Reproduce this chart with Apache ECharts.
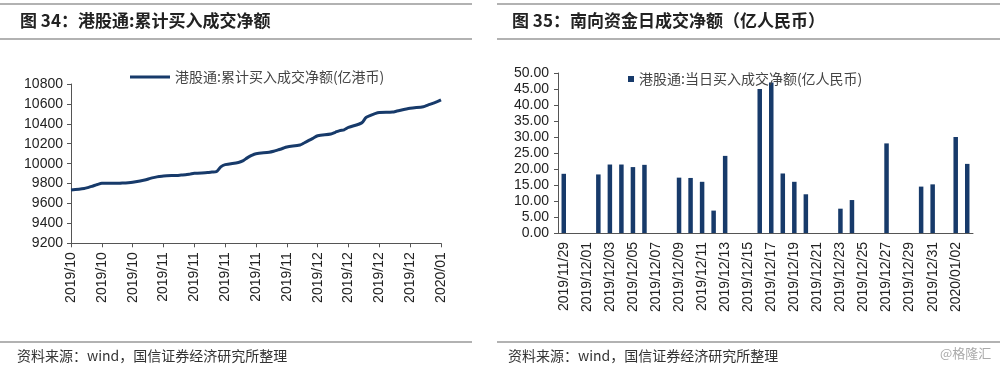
<!DOCTYPE html>
<html>
<head>
<meta charset="utf-8">
<script src="https://cdn.jsdelivr.net/npm/echarts@6/dist/echarts.min.js"></script>
<style>
html,body{margin:0;padding:0;background:#fff;}
#c{width:1000px;height:369px;}
</style>
</head>
<body>
<div id="c"></div>
<script>
// ---- Left chart: cumulative net buy (亿港币), trading days ----
const lineStart = '2019/10/11';
const lineEnd = '2020/01/03';
const lineDates = [
 '2019/10/11','2019/10/14','2019/10/15','2019/10/16','2019/10/17','2019/10/18',
 '2019/10/21','2019/10/22','2019/10/23','2019/10/24','2019/10/25',
 '2019/10/28','2019/10/29','2019/10/30','2019/10/31','2019/11/01',
 '2019/11/04','2019/11/05','2019/11/06','2019/11/07','2019/11/08',
 '2019/11/11','2019/11/12','2019/11/13','2019/11/14','2019/11/15',
 '2019/11/18','2019/11/19','2019/11/20','2019/11/21','2019/11/22',
 '2019/11/25','2019/11/26','2019/11/27','2019/11/28','2019/11/29',
 '2019/12/02','2019/12/03','2019/12/04','2019/12/05','2019/12/06',
 '2019/12/09','2019/12/10','2019/12/11','2019/12/12','2019/12/13',
 '2019/12/16','2019/12/17','2019/12/18','2019/12/19','2019/12/20',
 '2019/12/23','2019/12/24','2019/12/27','2019/12/30','2019/12/31',
 '2020/01/02','2020/01/03'
];
const lineValues = [
 9735,9750,9762,9776,9790,9802,
 9804,9803,9806,9808,9813,
 9838,9852,9862,9870,9876,
 9882,9885,9888,9895,9903,
 9910,9915,9920,9968,9990,
 10012,10028,10058,10083,10100,
 10114,10124,10138,10152,10168,
 10188,10210,10233,10256,10280,
 10298,10315,10332,10340,10364,
 10410,10465,10485,10502,10513,
 10518,10528,10556,10572,10588,
 10620,10640
];
const lineYTicks = {min: 9200, max: 10800, interval: 200};

// ---- Right chart: daily net buy (亿人民币) ----
const barStart = '2019/11/29';
const barEnd = '2020/01/03';
const barDates = [
 '2019/11/29','2019/12/02','2019/12/03','2019/12/04','2019/12/05','2019/12/06',
 '2019/12/09','2019/12/10','2019/12/11','2019/12/12','2019/12/13',
 '2019/12/16','2019/12/17','2019/12/18','2019/12/19','2019/12/20',
 '2019/12/23','2019/12/24','2019/12/27','2019/12/30','2019/12/31',
 '2020/01/02','2020/01/03'
];
const barValues = [
 18.5,18.3,21.4,21.4,20.6,21.3,
 17.3,17.2,16.0,7.0,24.1,
 45.0,47.0,18.6,16.0,12.1,
 7.6,10.3,28.0,14.5,15.2,
 30.0,21.6
];
const barYTicks = {min: 0, max: 50, interval: 5};

const lineName = '港股通:累计买入成交净额(亿港币)';
const barName = '港股通:当日买入成交净额(亿人民币)';
const title1 = '图 34：港股通:累计买入成交净额';
const title2 = '图 35：南向资金日成交净额（亿人民币）';
const sourceText = '资料来源：wind，国信证券经济研究所整理';
const watermark = '@格隆汇';

function calendarDays(a, b) {
  const p = s => { const t = s.split('/').map(Number); return Date.UTC(t[0], t[1]-1, t[2]); };
  const out = [];
  for (let t = p(a); t <= p(b); t += 86400000) {
    const d = new Date(t);
    const mm = String(d.getUTCMonth()+1).padStart(2,'0');
    const dd = String(d.getUTCDate()).padStart(2,'0');
    out.push(d.getUTCFullYear() + '/' + mm + '/' + dd);
  }
  return out;
}
const lineCats = calendarDays(lineStart, lineEnd);
const barCats = calendarDays(barStart, barEnd);

const NUM = 'Liberation Sans, Arial, Noto Sans CJK SC, sans-serif';
const CJK = 'Noto Sans CJK SC, sans-serif';
const axisColor = '#555';
const navy = '#173a6a';

const chart = echarts.init(document.getElementById('c'), null, {renderer: 'canvas'});
chart.setOption({
  animation: false,
  backgroundColor: '#fff',
  grid: [
    {left: 71, top: 84, width: 370, height: 159.3},
    {left: 558, top: 73, width: 415, height: 160}
  ],
  legend: [
    {
      data: [lineName], left: 125, top: 65, icon: 'rect', itemWidth: 40, itemHeight: 3,
      itemGap: 5, textStyle: {fontFamily: CJK, fontSize: 14, color: '#444'}
    },
    {
      data: [barName], left: 623, top: 67, icon: 'rect', itemWidth: 6, itemHeight: 6,
      itemGap: 5, textStyle: {fontFamily: CJK, fontSize: 14, color: '#444'}
    }
  ],
  xAxis: [
    {
      gridIndex: 0, type: 'category', data: lineCats, boundaryGap: false,
      axisLine: {lineStyle: {color: axisColor, width: 1}},
      axisTick: {interval: 6, length: 4, lineStyle: {color: axisColor}},
      axisLabel: {interval: 6, rotate: 90, margin: 9, fontFamily: NUM, fontSize: 14, color: '#222',
        formatter: v => v.slice(0, 7)},
      splitLine: {show: false}
    },
    {
      gridIndex: 1, type: 'category', data: barCats, boundaryGap: true,
      axisLine: {lineStyle: {color: axisColor, width: 1}},
      axisTick: {interval: 1, length: 4, lineStyle: {color: axisColor}},
      axisLabel: {interval: 1, rotate: 90, margin: 9, fontFamily: NUM, fontSize: 14, color: '#222'},
      splitLine: {show: false}
    }
  ],
  yAxis: [
    {
      gridIndex: 0, type: 'value', min: lineYTicks.min, max: lineYTicks.max, interval: lineYTicks.interval,
      axisLine: {show: true, lineStyle: {color: axisColor, width: 1}},
      axisTick: {show: true, length: 4, lineStyle: {color: axisColor}},
      axisLabel: {margin: 8, fontFamily: NUM, fontSize: 14, color: '#222', formatter: v => String(v)},
      splitLine: {show: false}
    },
    {
      gridIndex: 1, type: 'value', min: barYTicks.min, max: barYTicks.max, interval: barYTicks.interval,
      axisLine: {show: true, lineStyle: {color: axisColor, width: 1}},
      axisTick: {show: true, length: 4, lineStyle: {color: axisColor}},
      axisLabel: {margin: 9, fontFamily: NUM, fontSize: 14, color: '#222', formatter: v => v.toFixed(2)},
      splitLine: {show: false}
    }
  ],
  series: [
    {
      name: lineName, type: 'line', xAxisIndex: 0, yAxisIndex: 0,
      data: lineDates.map((d, i) => [d, lineValues[i]]),
      showSymbol: false, smooth: 0.3,
      lineStyle: {color: navy, width: 3},
      itemStyle: {color: navy}
    },
    {
      name: barName, type: 'bar', xAxisIndex: 1, yAxisIndex: 1,
      data: barDates.map((d, i) => [d, barValues[i]]),
      barWidth: 4.5,
      itemStyle: {color: navy}
    }
  ],
  graphic: [
    {type: 'line', shape: {x1: 0, y1: 4, x2: 472, y2: 4}, style: {stroke: '#666', lineWidth: 1.2}},
    {type: 'line', shape: {x1: 0, y1: 39, x2: 472, y2: 39}, style: {stroke: '#666', lineWidth: 1.2}},
    {type: 'line', shape: {x1: 0, y1: 342, x2: 472, y2: 342}, style: {stroke: '#666', lineWidth: 1.2}},
    {type: 'line', shape: {x1: 497, y1: 4, x2: 1000, y2: 4}, style: {stroke: '#666', lineWidth: 1.2}},
    {type: 'line', shape: {x1: 497, y1: 39, x2: 1000, y2: 39}, style: {stroke: '#666', lineWidth: 1.2}},
    {type: 'line', shape: {x1: 497, y1: 342, x2: 1000, y2: 342}, style: {stroke: '#666', lineWidth: 1.2}},
    {type: 'text', left: 20, top: 12, style: {text: title1, font: 'bold 17px ' + CJK, fill: '#222'}},
    {type: 'text', left: 512, top: 12, style: {text: title2, font: 'bold 17px ' + CJK, fill: '#222'}},
    {type: 'text', left: 17, top: 349, style: {text: sourceText, font: '14px ' + CJK, fill: '#333'}},
    {type: 'text', left: 508, top: 349, style: {text: sourceText, font: '14px ' + CJK, fill: '#333'}},
    {type: 'text', left: 940, top: 347, style: {text: watermark, font: '13px ' + CJK, fill: '#aaa'}}
  ]
});
</script>
</body>
</html>
